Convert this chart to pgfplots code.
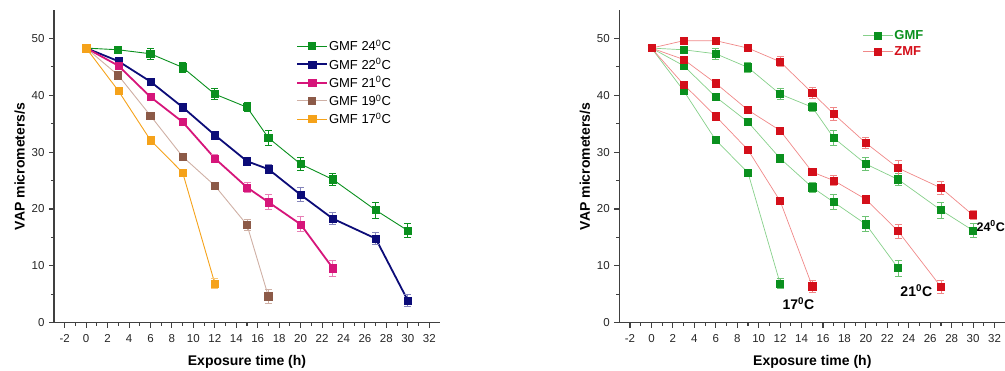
\documentclass[border=0pt]{standalone}
\usepackage{fontspec}
\setmainfont{Liberation Sans}
\usepackage{pgfplots}
\usepackage{pgfplotstable}
\pgfplotsset{compat=1.18}

\definecolor{cgreen}{HTML}{0A901E}
\definecolor{cnavy}{HTML}{0C0C78}
\definecolor{cmag}{HTML}{D6157A}
\definecolor{cbrown}{HTML}{8C5A48}
\definecolor{ctan}{HTML}{CFB0A5}
\definecolor{corange}{HTML}{F5A21A}
\definecolor{cred}{HTML}{D40F1A}
\definecolor{lgreen}{HTML}{86D08A}
\definecolor{lred}{HTML}{F08888}

\pgfplotstableread{
x y e
0 48.3 0.5
3 48.0 0.6
6 47.3 1.0
9 44.9 0.9
12 40.2 1.0
15 37.9 0.8
17 32.5 1.3
20 27.9 1.1
23 25.2 1.0
27 19.8 1.4
30 16.2 1.2
}\gmfA
\pgfplotstableread{
x y e
0 48.3 0.4
3 46.0 0.5
6 42.4 0.5
9 37.9 0.6
12 33.0 0.6
15 28.4 0.6
17 27.0 0.8
20 22.5 1.2
23 18.3 1.1
27 14.8 1.1
30 3.9 1.1
}\gmfB
\pgfplotstableread{
x y e
0 48.3 0.4
3 45.2 0.6
6 39.7 0.5
9 35.3 0.5
12 28.9 0.7
15 23.8 0.9
17 21.2 1.3
20 17.3 1.3
23 9.6 1.4
}\gmfC
\pgfplotstableread{
x y e
0 48.3 0.4
3 43.5 0.5
6 36.4 0.5
9 29.2 0.6
12 24.1 0.6
15 17.2 0.9
17 4.6 1.2
}\gmfD
\pgfplotstableread{
x y e
0 48.3 0.4
3 40.8 0.5
6 32.1 0.5
9 26.4 0.5
12 6.9 0.8
}\gmfE
\pgfplotstableread{
x y e
0 48.3 0.4
3 49.6 0.5
6 49.6 0.5
9 48.3 0.5
12 45.9 0.9
15 40.4 1.0
17 36.7 1.1
20 31.6 0.9
23 27.2 1.3
27 23.7 1.2
30 18.9 0.8
}\zmfA
\pgfplotstableread{
x y e
0 48.3 0.4
3 46.3 0.5
6 42.1 0.5
9 37.4 0.5
12 33.8 0.5
15 26.5 0.5
17 25.0 0.9
20 21.7 0.6
23 16.1 1.2
27 6.3 1.1
}\zmfC
\pgfplotstableread{
x y e
0 48.3 0.4
3 41.9 0.5
6 36.3 0.5
9 30.4 0.5
12 21.4 0.5
15 6.4 1.1
}\zmfE

\pgfplotsset{
  panel/.style={
    scale only axis, width=386pt, height=312.7pt, anchor=south west,
    xmin=-3, xmax=33, ymin=0, ymax=55,
    axis x line=bottom, axis y line=left,
    axis line style={-, line width=1.3pt, color=black!75},
    tick align=outside, major tick length=5pt, minor tick length=3pt,
    tick style={line width=1.1pt, color=black!75},
    xtick={-2,0,...,32}, minor x tick num=1,
    ytick={0,10,...,50}, minor y tick num=1,
    /pgf/number format/assume math mode=true,
    ticklabel style={font=\fontsize{11.5}{13}\selectfont, color=black!85},
    xticklabel style={yshift=-3pt},
    yticklabel style={xshift=-1pt},
    label style={font=\fontsize{14}{16}\selectfont\bfseries},
    xlabel style={yshift=-6pt},
    xlabel={Exposure time (h)}, ylabel={VAP micrometers/s},
    legend cell align=left,
    legend style={draw=none, fill=none, inner sep=0pt, row sep=0pt,
      font=\fontsize{13}{15}\selectfont, nodes={inner xsep=1pt, inner ysep=3pt}},
    legend image code/.code={\draw[mark repeat=2,mark phase=2] plot coordinates {(0pt,0pt)(15pt,0pt)(30pt,0pt)};},
    error bars/y dir=both, error bars/y explicit,
    clip=false,
  },
  ser/.style n args={3}{mark=square*, mark size=3.6pt, color=#1,
    mark options={solid, fill=#1, draw=#1, line width=0.3pt},
    line width=#3,
    error bars/error bar style={color=#2, line width=0.9pt},
    error bars/error mark options={rotate=90, color=#2, line width=0.9pt, mark size=3.5pt}},
}

\begin{document}
\begin{tikzpicture}
\useasboundingbox (0,0) rectangle (1005pt,371pt);
\begin{axis}[panel, at={(54pt,48.3pt)},
  legend style={at={(0.627,0.914)}, anchor=north west}]
\addplot[ser={cgreen}{cgreen}{0.9pt}, mark options={fill=cgreen}, draw=cgreen] table[x=x,y=y,y error=e] {\gmfA};
\addlegendentry{GMF 24\textsuperscript{0}C}
\addplot[ser={cnavy}{cnavy!50}{1.8pt}] table[x=x,y=y,y error=e] {\gmfB};
\addlegendentry{GMF 22\textsuperscript{0}C}
\addplot[ser={cmag}{cmag!55}{1.8pt}] table[x=x,y=y,y error=e] {\gmfC};
\addlegendentry{GMF 21\textsuperscript{0}C}
\addplot[ser={cbrown}{ctan}{0.9pt}, draw=ctan, mark options={fill=cbrown, draw=cbrown}] table[x=x,y=y,y error=e] {\gmfD};
\addlegendentry{GMF 19\textsuperscript{0}C}
\addplot[ser={corange}{corange!60}{0.9pt}] table[x=x,y=y,y error=e] {\gmfE};
\addlegendentry{GMF 17\textsuperscript{0}C}
\end{axis}

\begin{axis}[panel, at={(619.3pt,48.3pt)},
  legend style={at={(0.63,0.945)}, anchor=north west, nodes={inner ysep=2.8pt}}]
\addplot[ser={cgreen}{lgreen!80!cgreen}{0.7pt}, draw=lgreen, mark options={fill=cgreen, draw=cgreen}] table[x=x,y=y,y error=e] {\gmfA};
\addlegendentry{\textcolor{cgreen}{\bfseries GMF}}
\addplot[ser={cred}{lred}{0.7pt}, draw=lred, mark options={fill=cred, draw=cred}] table[x=x,y=y,y error=e] {\zmfA};
\addlegendentry{\textcolor{cred}{\bfseries ZMF}}
\addplot[forget plot, ser={cgreen}{lgreen!80!cgreen}{0.7pt}, draw=lgreen, mark options={fill=cgreen, draw=cgreen}] table[x=x,y=y,y error=e] {\gmfC};
\addplot[forget plot, ser={cgreen}{lgreen!80!cgreen}{0.7pt}, draw=lgreen, mark options={fill=cgreen, draw=cgreen}] table[x=x,y=y,y error=e] {\gmfE};
\addplot[forget plot, ser={cred}{lred}{0.7pt}, draw=lred, mark options={fill=cred, draw=cred}] table[x=x,y=y,y error=e] {\zmfC};
\addplot[forget plot, ser={cred}{lred}{0.7pt}, draw=lred, mark options={fill=cred, draw=cred}] table[x=x,y=y,y error=e] {\zmfE};
\node[font=\fontsize{14}{16}\selectfont\bfseries] at (axis cs:13.7,3.3) {17\textsuperscript{0}C};
\node[font=\fontsize{14}{16}\selectfont\bfseries] at (axis cs:24.7,5.7) {21\textsuperscript{0}C};
\node[font=\fontsize{12.5}{14}\selectfont\bfseries, anchor=west, inner sep=0pt] at (axis cs:30.3,17.0) {24\textsuperscript{0}C};
\end{axis}
\end{tikzpicture}
\end{document}
